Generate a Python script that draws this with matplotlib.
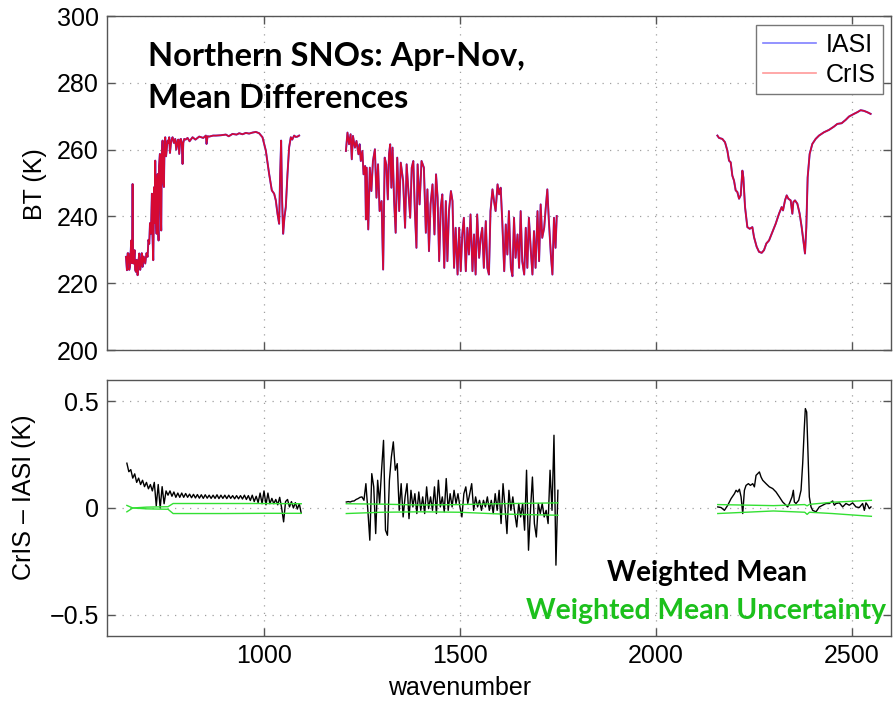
import matplotlib
matplotlib.use("Agg")
import matplotlib.pyplot as plt
import numpy as np

# ---- top panel: brightness temperature spectra (K) ----
wn_b1 = [647.6, 650.2, 652, 654.4, 656, 657.8, 660, 661.2, 663, 664.6,
         666, 667.2, 669.7, 671, 673.1, 675, 677.4, 679, 681.6, 684,
         685.9, 688, 690.1, 693, 696.9, 700, 702.9, 705, 707.1, 709,
         711.4, 713.9, 715, 717.3, 719.9, 721, 722.4, 724, 725.8, 727,
         728.4, 730, 730.9, 732, 734.3, 736, 737.7, 739, 741.1, 743,
         744.5, 746, 747.9, 750, 753.9, 756, 758.1, 760, 762.4, 764,
         766.6, 770, 773.4, 776, 779.4, 781, 783.6, 786, 787.9, 790,
         792.1, 794, 796.4, 800, 804.9, 810, 817.6, 825, 834.6, 845,
         851.6, 853.3, 856, 860.1, 870, 877.1, 890, 902.6, 910, 919.6,
         930, 936.6, 945, 953.6, 962, 970.6, 979.1, 987.6, 996.1, 1004.6,
         1013.1, 1019.9, 1025.9, 1030.1, 1034.4, 1038.6, 1041.2, 1043.7, 1046.2, 1048.8,
         1052.2, 1055.6, 1059.9, 1064.1, 1068.4, 1072, 1076.9, 1081, 1085.4, 1089.6]
cris_b1 = [227.9, 223.9, 229, 228.9, 224, 224.9, 230, 232.8, 226, 249.7,
           226, 225.9, 229.9, 224, 223.4, 227, 222.4, 226, 228.9, 224,
           225.9, 229, 224.9, 228, 225.9, 229, 227.9, 233, 231.8, 238,
           234.8, 246.8, 236, 226.9, 248.8, 238, 256.7, 240, 234.8, 250,
           252.7, 236, 232.8, 255, 258.7, 242, 235.8, 258, 262.7, 250,
           248.8, 260, 263.7, 258, 262.7, 262, 263.7, 259, 261.7, 263,
           263.7, 262, 263.2, 260, 262.7, 263, 258.7, 263, 263.2, 262,
           255.7, 262, 263.2, 263, 263.5, 262.5, 263.7, 263, 263.9, 263.5,
           264.2, 261.7, 264, 263.9, 264.2, 264.2, 264.3, 264.5, 264, 264.7,
           264.5, 264.9, 264.6, 265.0, 264.8, 265.1, 265.3, 264.9, 263.7, 259.7,
           252.7, 247.8, 246.8, 244.8, 240.8, 237.8, 252.7, 262.7, 244.8, 234.8,
           239.8, 242.8, 252.7, 260.7, 263.7, 263, 264.2, 263.8, 263.9, 264.2]

wn_b2 = [1209, 1213, 1217, 1221, 1224, 1227, 1232, 1236, 1241, 1244,
         1247, 1251, 1254, 1258, 1260, 1262, 1266, 1270, 1274, 1278,
         1283, 1287, 1291, 1295, 1300, 1304, 1308, 1312, 1316, 1319,
         1322, 1325, 1328, 1332, 1336, 1340, 1345, 1349, 1355, 1360,
         1364, 1368, 1373, 1377, 1381, 1385, 1389, 1392, 1397, 1402,
         1408, 1413, 1417, 1421, 1425, 1430, 1435, 1439, 1443, 1447,
         1451, 1455, 1460, 1464, 1468, 1472, 1477, 1481, 1485, 1489,
         1494, 1498, 1502, 1506, 1510, 1515, 1519, 1523, 1527, 1532,
         1536, 1540, 1544, 1549, 1553, 1557, 1561, 1566, 1570, 1574,
         1578, 1583, 1587, 1591, 1596, 1600, 1604, 1608, 1613, 1617,
         1621, 1625, 1630, 1634, 1638, 1642, 1647, 1651, 1655, 1659,
         1664, 1668, 1672, 1676, 1681, 1685, 1689, 1693, 1698, 1702,
         1706, 1710, 1715, 1719, 1723, 1727, 1732, 1736, 1740, 1744,
         1747]
cris_b2 = [259.6, 265.1, 261.6, 264.6, 257.1, 264.1, 260.6, 262.6, 258.6, 261.6,
           256.6, 259.6, 252.6, 255.1, 239.1, 254.6, 236.1, 254.6, 247.6, 256.6,
           260.1, 245.6, 255.6, 241.6, 244.6, 224.1, 257.6, 255.6, 245.1, 258.6,
           261.6, 248.6, 260.6, 244.6, 235.1, 257.6, 241.6, 256.1, 250.6, 236.6,
           255.6, 248.6, 239.6, 254.6, 256.6, 241.6, 230.6, 255.6, 243.6, 256.6,
           254.6, 235.1, 248.1, 229.6, 243.6, 249.6, 234.6, 252.6, 245.6, 226.6,
           242.6, 246.6, 224.6, 244.6, 226.6, 241.6, 247.6, 244.6, 224.6, 236.6,
           222.6, 236.6, 223.6, 234.6, 239.6, 223.6, 236.6, 228.6, 240.6, 223.6,
           234.6, 222.6, 240.6, 227.6, 233.6, 236.6, 224.6, 238.6, 224.6, 222.6,
           241.6, 248.1, 244.6, 241.6, 249.6, 246.6, 248.6, 238.6, 223.6, 237.6,
           228.6, 241.6, 224.6, 222.1, 239.6, 227.6, 234.6, 224.6, 241.6, 226.6,
           222.6, 236.6, 224.6, 239.6, 229.6, 222.6, 235.6, 224.6, 241.6, 226.6,
           243.6, 233.6, 236.6, 242.6, 248.1, 238.6, 228.6, 222.6, 239.6, 230.6,
           240.1]

wn_b3 = [2157.0, 2161.2, 2169.7, 2176.5, 2182.5, 2186.7, 2191.0, 2195.2, 2199.5, 2203.7,
         2208.0, 2212.3, 2216.5, 2220.8, 2223.3, 2227.6, 2233.5, 2239.5, 2246.3, 2250.5,
         2257.3, 2263.3, 2270.1, 2276.0, 2282.0, 2288.8, 2297.3, 2305.8, 2314.3, 2321.1,
         2324.5, 2329.6, 2333.9, 2338.1, 2344.1, 2348.3, 2350.9, 2355.1, 2361.1, 2367.0,
         2372.1, 2376.4, 2380.6, 2384.0, 2387.4, 2392.5, 2399.3, 2407.8, 2416.3, 2429.1,
         2441.8, 2454.6, 2463.1, 2474.1, 2484.4, 2492.9, 2505.6, 2514.1, 2522.6, 2531.1,
         2539.6, 2548.1]
cris_b3 = [264.2, 263.5, 263.2, 262.2, 259.7, 256.7, 256.2, 252.2, 250.7, 247.8,
           247.3, 245.3, 246.3, 253.7, 251.7, 242.8, 236.8, 236.3, 236.8, 233.8,
           230.9, 229.4, 229.1, 229.9, 231.9, 232.8, 235.3, 237.8, 240.8, 242.8,
           241.8, 244.8, 246.3, 245.3, 244.8, 240.8, 244.3, 244.8, 243.8, 240.8,
           236.8, 232.8, 228.9, 236.8, 251.7, 258.7, 261.7, 263.2, 264.2, 265.2,
           265.9, 266.9, 267.7, 267.9, 268.9, 269.9, 270.7, 271.2, 271.8, 271.6,
           271.2, 270.7]

# IASI and CrIS overlap to within the line width at this scale
iasi_b1, iasi_b2, iasi_b3 = cris_b1, cris_b2, cris_b3

# ---- bottom panel: CrIS - IASI weighted mean (K) ----
dwn_b1 = np.arange(650, 1100, 5)
diff_b1 = [0.21, 0.17, 0.18, 0.14, 0.16, 0.12, 0.14, 0.11, 0.13, 0.10,
           0.12, 0.09, 0.11, 0.08, 0.12, 0.01, 0.11, 0.00, 0.10, 0.02,
           0.08, 0.06, 0.08, 0.055, 0.075, 0.05, 0.07, 0.05, 0.07, 0.05,
           0.068, 0.05, 0.065, 0.048, 0.064, 0.047, 0.063, 0.046, 0.062, 0.045,
           0.062, 0.046, 0.06, 0.045, 0.06, 0.045, 0.062, 0.044, 0.06, 0.045,
           0.06, 0.044, 0.06, 0.045, 0.058, 0.043, 0.058, 0.043, 0.058, 0.042,
           0.06, 0.04, 0.058, 0.035, 0.06, 0.03, 0.055, 0.025, 0.07, 0.02,
           0.08, 0.015, 0.07, 0.02, 0.045, 0.02, 0.04, 0.015, 0.05, 0.0,
           -0.065, 0.03, 0.04, 0.005, 0.03, 0.0, 0.025, -0.005, 0.02, -0.025]

dwn_b2 = np.arange(1210, 1755, 5)
diff_b2 = [0.028, 0.030, 0.028, 0.032, 0.033, 0.04, 0.044, 0.05, 0.052, 0.036,
           0.114, -0.011, -0.151, 0.161, 0.099, -0.12, 0.13, 0.021, 0.177, 0.317,
           -0.104, -0.128, 0.13, 0.239, 0.31, 0.177, 0.208, -0.011, 0.114, -0.042,
           0.052, 0.114, -0.05, 0.083, 0.005, 0.067, -0.026, 0.075, -0.011, 0.052,
           -0.026, 0.099, -0.003, 0.052, -0.011, 0.099, -0.026, 0.13, 0.005, 0.052,
           -0.018, 0.138, -0.011, 0.067, 0.005, 0.083, 0.021, 0.067, 0.005, -0.042,
           0.067, 0.099, 0.021, 0.067, 0.114, -0.011, 0.052, 0.005, 0.036, -0.011,
           0.036, 0.005, 0.052, -0.011, 0.036, -0.026, 0.067, -0.011, 0.083, -0.073,
           0.114, 0.005, -0.12, 0.083, -0.011, 0.052, -0.026, -0.089, 0.021, -0.042,
           0.021, -0.104, 0.177, -0.198, -0.011, 0.145, -0.073, -0.136, 0.021, -0.026,
           0.021, -0.042, -0.011, -0.073, 0.177, -0.011, 0.341, -0.268, 0.083]

dwn_b3 = [2158.0, 2166.5, 2175.0, 2183.5, 2192.0, 2200.5, 2204.7, 2209.0, 2213.2, 2217.5,
          2221.7, 2226.0, 2230.2, 2236.2, 2241.3, 2247.2, 2251.5, 2255.7, 2260.0, 2264.2,
          2268.5, 2272.7, 2281.2, 2289.7, 2298.2, 2306.7, 2315.2, 2323.7, 2332.2, 2336.5,
          2340.7, 2347.5, 2350.9, 2353.5, 2357.7, 2364.5, 2370.5, 2374.7, 2379.0, 2381.5,
          2384.9, 2388.3, 2391.7, 2396.0, 2400.2, 2408.7, 2417.2, 2425.7, 2434.2, 2442.7,
          2451.2, 2455.5, 2459.7, 2468.2, 2476.7, 2485.2, 2493.7, 2502.2, 2510.7, 2519.2,
          2527.7, 2532.0, 2536.2, 2540.5, 2544.7, 2549.0]
diff_b3 = [0.005, 0.002, -0.011, 0.013, 0.044, 0.067, 0.083, 0.075, 0.088, 0.052,
           -0.026, 0.083, 0.106, 0.114, 0.106, 0.114, 0.099, 0.153, 0.161, 0.169,
           0.145, 0.13, 0.114, 0.099, 0.091, 0.075, 0.052, 0.028, 0.013, 0.005,
           0.021, 0.052, 0.083, 0.028, 0.021, 0.036, 0.083, 0.208, 0.38, 0.466,
           0.45, 0.255, 0.052, 0.005, -0.011, -0.018, 0.005, 0.013, 0.021, 0.021,
           0.033, 0.013, 0.021, 0.024, 0.005, 0.021, 0.013, 0.024, 0.005, 0.002,
           0.021, -0.011, 0.024, 0.013, -0.003, 0.005]

# weighted mean uncertainty (two bounding curves per band)
unc_wn_b1 = [650, 665, 700, 755, 768, 900, 1000, 1095]
unc_a_b1 = [0.012, 0.0, -0.004, -0.006, -0.026, -0.026, -0.025, -0.025]
unc_b_b1 = [-0.018, 0.0, 0.004, 0.006, 0.021, 0.021, 0.021, 0.02]
unc_wn_b2 = [1210, 1300, 1400, 1500, 1600, 1750]
unc_a_b2 = [0.02, 0.018, 0.014, 0.016, 0.02, 0.024]
unc_b_b2 = [-0.026, -0.02, -0.018, -0.02, -0.028, -0.034]
unc_wn_b3 = [2158, 2300, 2380, 2386, 2392, 2450, 2550]
unc_a_b3 = [0.016, 0.011, 0.016, 0.01, 0.017, 0.027, 0.036]
unc_b_b3 = [-0.026, -0.014, -0.02, -0.03, -0.02, -0.026, -0.039]

plt.rcParams['font.family'] = ['Liberation Sans', 'DejaVu Sans']
plt.rcParams['font.size'] = 18

fig = plt.figure(figsize=(8.94, 7.05), dpi=100)
ax1 = fig.add_axes([0.1200, 0.5035, 0.8766, 0.4738])
ax2 = fig.add_axes([0.1200, 0.0979, 0.8766, 0.3631])

for w, iasi in zip([wn_b1, wn_b2, wn_b3], [iasi_b1, iasi_b2, iasi_b3]):
    ax1.plot(w, iasi, color='#3030ff', lw=1.4)
for w, cris in zip([wn_b1, wn_b2, wn_b3], [cris_b1, cris_b2, cris_b3]):
    ax1.plot(w, cris, color='#ff0000', lw=1.2, alpha=0.8)

# legend handles
ax1.plot([], [], color='#8080ff', lw=1.2, label='IASI')
ax1.plot([], [], color='#ff9999', lw=1.2, label='CrIS')
leg = ax1.legend(loc='upper right', bbox_to_anchor=(0.99, 0.973), borderaxespad=0,
                 fancybox=False, framealpha=1, edgecolor='#777777', fontsize=18,
                 handlelength=2.1, handletextpad=0.4, borderpad=0.3, labelspacing=0.25)
leg.get_frame().set_linewidth(1.0)

ax1.text(0.052, 0.922, 'Northern SNOs: Apr-Nov,\nMean Differences',
         transform=ax1.transAxes, va='top', ha='left', family='Lato',
         fontweight='bold', fontsize=23.5, linespacing=1.55)

for w, d in zip([dwn_b1, dwn_b2, dwn_b3], [diff_b1, diff_b2, diff_b3]):
    ax2.plot(w, d, color='black', lw=1.0)
for w, a, b in zip([unc_wn_b1, unc_wn_b2, unc_wn_b3],
                   [unc_a_b1, unc_a_b2, unc_a_b3], [unc_b_b1, unc_b_b2, unc_b_b3]):
    ax2.plot(w, a, color='#33e033', lw=1.0)
    ax2.plot(w, b, color='#33e033', lw=1.0)

ax2.text(0.765, 0.246, 'Weighted Mean', transform=ax2.transAxes, ha='center',
         va='center', family='Lato', fontweight='bold', fontsize=20, color='black')
ax2.text(0.7635, 0.098, 'Weighted Mean Uncertainty', transform=ax2.transAxes,
         ha='center', va='center', family='Lato', fontweight='bold', fontsize=20.3,
         color='#1cc01c')

ax1.set_xlim(600, 2600)
ax1.set_ylim(200, 300)
ax1.set_yticks([200, 220, 240, 260, 280, 300])
ax2.set_xlim(600, 2600)
ax2.set_ylim(-0.6, 0.6)
ax2.set_yticks([-0.5, 0, 0.5])
ax2.set_yticklabels(['\u22120.5', '0', '0.5'])

for ax in (ax1, ax2):
    ax.set_xticks([1000, 1500, 2000, 2500])
    ax.grid(True, color='#a0a0a0', linestyle=(0, (1, 5)), lw=0.9)
    ax.tick_params(direction='in', top=True, right=True, length=6, width=1,
                   color='#555555', labelsize=18, pad=6)
    for s in ax.spines.values():
        s.set_color('#555555')
        s.set_linewidth(1.0)
ax1.tick_params(labelbottom=False)

fig.text(35 / 894, 1 - 184 / 705, 'BT (K)', rotation=90, ha='center', va='center', fontsize=18)
fig.text(24 / 894, 1 - 497 / 705, 'CrIS \u2013 IASI (K)', rotation=90, ha='center',
         va='center', fontsize=18)
fig.text(460 / 894, 1 - 688 / 705, 'wavenumber', ha='center', va='center', fontsize=18)

fig.savefig('out.png', dpi=100)
